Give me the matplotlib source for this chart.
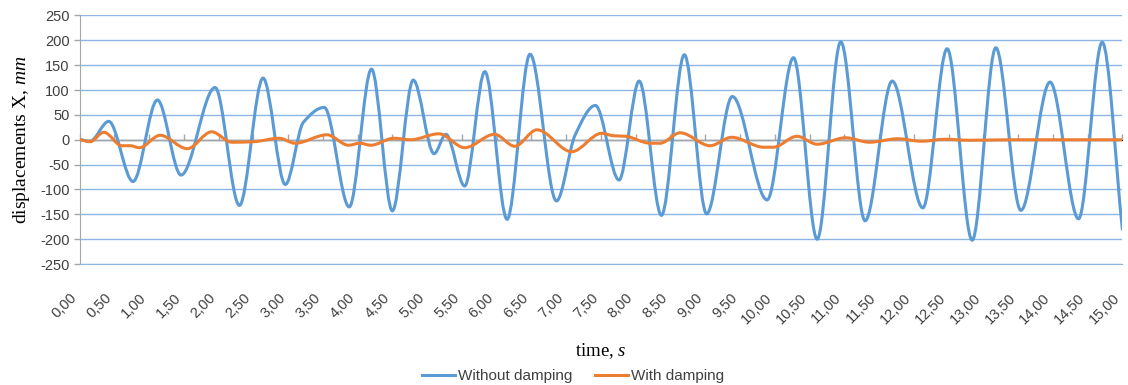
import numpy as np
import matplotlib
matplotlib.use("Agg")
import matplotlib.pyplot as plt
from matplotlib.path import Path
from matplotlib.patches import PathPatch
from matplotlib.lines import Line2D

## Данные (экстремумы и изломы кривых)
t_free = [0.00, 0.15, 0.42, 0.77, 1.12, 1.46, 1.95, 2.30, 2.64, 2.96, 3.22, 3.52,
          3.88, 4.20, 4.50, 4.80, 5.10, 5.27, 5.54, 5.83, 6.15, 6.48, 6.86, 7.13,
          7.42, 7.76, 8.05, 8.37, 8.70, 9.02, 9.39, 9.89, 10.27, 10.61, 10.95,
          11.30, 11.69, 12.13, 12.48, 12.84, 13.18, 13.54, 13.96, 14.37, 14.71, 15.00]
x_free = [0, -3, 37, -84, 80, -71, 105, -132, 124, -90, 35, 65,
          -135, 142, -143, 120, -28, 11, -93, 137, -160, 172, -123, 10,
          69, -81, 118, -152, 171, -149, 87, -121, 165, -200, 197,
          -163, 118, -137, 183, -202, 185, -142, 116, -159, 196, -180]

t_damp = [0.00, 0.15, 0.35, 0.61, 0.73, 0.86, 1.16, 1.55, 1.90, 2.19, 2.50, 2.87,
          3.10, 3.56, 3.87, 4.03, 4.19, 4.52, 4.76, 5.17, 5.54, 5.97, 6.26, 6.58,
          7.08, 7.51, 7.68, 7.85, 8.21, 8.35, 8.64, 9.07, 9.38, 9.84, 9.98, 10.32,
          10.61, 11.02, 11.36, 11.77, 12.11, 12.45, 12.80, 13.40, 14.20, 15.00]
x_damp = [0, -4, 15, -12, -12, -16, 9, -18, 16, -5, -4, 3,
          -7, 10, -11, -7, -11, 3, 0, 12, -16, 11, -13, 20,
          -24, 13, 8, 7, -7, -7, 14, -12, 5, -15, -15, 7,
          -9, 4, -5, 2, -3, 1, -1, 0, 0, 0]

x_ticks = list(np.arange(0, 15.01, 0.5))
x_tick_labels = [f"{v:.2f}".replace(".", ",") for v in x_ticks]
y_ticks = list(range(-250, 251, 50))


def smooth_path(t, v):
    # гладкая линия через точки (как "сглаженная линия" в Excel)
    t = np.asarray(t, float)
    v = np.asarray(v, float)
    h = np.diff(t)
    d = np.diff(v) / h
    m = np.zeros_like(v)
    for i in range(1, len(v) - 1):
        if d[i - 1] * d[i] > 0:
            m[i] = 2.0 / (1.0 / d[i - 1] + 1.0 / d[i])
    m[-1] = d[-1]
    verts = [(t[0], v[0])]
    codes = [Path.MOVETO]
    for i in range(len(h)):
        verts += [(t[i] + h[i] / 3, v[i] + m[i] * h[i] / 3),
                  (t[i + 1] - h[i] / 3, v[i + 1] - m[i + 1] * h[i] / 3),
                  (t[i + 1], v[i + 1])]
        codes += [Path.CURVE4] * 3
    return Path(verts, codes)


plt.rcParams["font.family"] = ["Liberation Sans", "DejaVu Sans"]
plt.rcParams["mathtext.fontset"] = "custom"
plt.rcParams["mathtext.rm"] = "Liberation Serif"
plt.rcParams["mathtext.it"] = "Liberation Serif:italic"

blue = "#5B9BD5"
orange = "#ED7D31"
grid_c = "#8DB6E2"
axis_c = "#A6A6A6"
text_c = "#404040"

fig = plt.figure(figsize=(11.28, 3.85), dpi=100)
ax = fig.add_axes([0.0705, 0.314, 0.9245, 0.646])

ax.add_patch(PathPatch(smooth_path(t_free, x_free), fill=False, edgecolor=blue,
                       lw=2.2, capstyle="round", joinstyle="round", zorder=3))
ax.add_patch(PathPatch(smooth_path(t_damp, x_damp), fill=False, edgecolor=orange,
                       lw=2.2, capstyle="round", joinstyle="round", zorder=4))

ax.set_xlim(0, 15)
ax.set_ylim(-250, 250)
ax.set_yticks(y_ticks)
ax.set_yticklabels([str(v) for v in y_ticks])
ax.yaxis.grid(True, color=grid_c, lw=1.0)
ax.set_axisbelow(True)
ax.axhline(0, color=axis_c, lw=1.0, zorder=2)

for s in ["top", "right"]:
    ax.spines[s].set_visible(False)
ax.spines["bottom"].set_color(grid_c)
ax.spines["left"].set_color(axis_c)
ax.tick_params(axis="y", colors=axis_c, labelcolor=text_c, labelsize=10.5,
               length=4, width=1, pad=3)

# подписи оси X снизу, засечки - на нулевой линии
ax.set_xticks(x_ticks)
ax.set_xticklabels(x_tick_labels, rotation=45, ha="right")
ax.tick_params(axis="x", length=0, labelcolor=text_c, labelsize=10.5, pad=19)

sec = ax.secondary_xaxis(0.5)
sec.set_xticks(x_ticks)
sec.set_xticklabels([])
sec.tick_params(axis="x", length=4, width=1, color=axis_c, direction="out")
sec.spines["bottom"].set_visible(False)

ax.set_xlabel(r"time, $\mathit{s}$", fontsize=13.5, family="Liberation Serif",
              color="black")
ax.xaxis.set_label_coords(0.5, (264 - 351) / 248.7)
ax.xaxis.label.set_va("center")
ax.set_ylabel(r"displacements X, $\mathit{mm}$", fontsize=14,
              family="Liberation Serif", color="black")
ax.yaxis.set_label_coords(-0.0556, 0.5)
ax.yaxis.label.set_va("center")

handles = [Line2D([], [], color=blue, lw=2.2), Line2D([], [], color=orange, lw=2.2)]
fig.legend(handles, ["Without damping", "With damping"], loc="center",
           bbox_to_anchor=(0.508, 0.023), ncol=2, frameon=False, fontsize=11,
           handlelength=2.15, handletextpad=0.2, columnspacing=1.5,
           labelcolor=text_c)

fig.savefig("out.png", dpi=100)
